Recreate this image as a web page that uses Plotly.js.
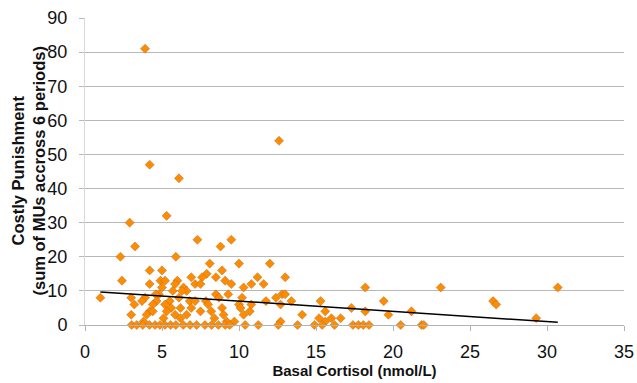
<!DOCTYPE html>
<html>
<head>
<meta charset="utf-8">
<script src="https://cdn.plot.ly/plotly-3.0.1.min.js"></script>
<style>html,body{margin:0;padding:0;background:#fff;}#chart{width:637px;height:383px;}</style>
</head>
<body>
<div id="chart"></div>
<script>
// Basal cortisol (nmol/L)
var cortisol = [
  3.9, 12.6, 4.2, 6.1, 5.3, 2.9, 7.3, 9.5, 3.25, 8.8, 2.3, 5.9, 8.1, 10.0, 12.0,
  4.2, 5.0, 8.9, 7.9, 6.9, 7.6, 8.5, 11.2, 13.0, 2.4, 4.9, 5.2, 6.0, 9.1,
  4.2, 5.85, 7.15, 7.5, 9.5, 10.8, 11.6,
  5.0, 6.4, 10.3, 18.2, 23.1, 30.7,
  5.7, 6.6, 6.3,
  4.8, 9.3, 8.5, 12.8, 13.0, 4.6,
  1.0, 3.0, 3.9, 3.7, 4.65, 6.1, 8.7, 10.2, 12.4,
  5.5, 6.8, 7.15, 7.85, 11.75, 13.4, 15.3, 19.4, 26.5,
  3.2, 4.4, 5.2, 10.0, 10.8, 12.7, 26.7,
  6.2, 6.9, 8.0, 8.9, 5.6, 10.1, 17.3,
  4.2, 5.3, 7.5, 8.2, 10.7, 15.6, 18.2, 21.2, 4.4,
  3.0, 4.0, 5.85, 6.6, 9.0, 10.3, 14.1, 19.7,
  5.1, 6.2, 8.4, 15.2, 16.0, 16.6, 29.3,
  3.8, 9.2, 9.7, 12.7, 15.6,
  3.03, 3.36, 3.75, 4.18, 4.55, 4.87, 5.19, 5.56, 5.9, 6.38, 6.82, 7.25, 7.79,
  8.22, 8.66, 9.1, 9.4, 10.4, 11.25, 12.55, 13.8, 14.9, 15.4, 16.2, 17.4, 17.75,
  18.07, 18.44, 20.5, 21.86, 22.0
];
// Costly punishment (sum of MUs across 6 periods)
var punishment = [
  81, 54, 47, 43, 32, 30, 25, 25, 23, 23, 20, 20, 18, 18, 18,
  16, 16, 16, 15, 14, 14, 14, 14, 14, 13, 13, 13, 13, 13,
  12, 12, 12, 12, 12, 12, 12,
  11, 11, 11, 11, 11, 11,
  10, 10, 10,
  9, 9, 9, 9, 9, 9,
  8, 8, 8, 7, 7, 8, 8, 8, 8,
  7, 7, 7, 7, 7, 7, 7, 7, 7,
  6, 6, 6, 6, 6, 6, 6,
  5, 5, 6, 5, 5, 5, 5,
  4, 4, 4, 4, 4, 4, 4, 4, 4,
  3, 3, 3, 3, 3, 3, 3, 3,
  2, 2, 2, 2, 2, 2, 2,
  1, 1, 1, 1, 1,
  0, 0, 0, 0, 0, 0, 0, 0, 0, 0, 0, 0, 0,
  0, 0, 0, 0, 0, 0, 0, 0, 0, 0, 0, 0, 0,
  0, 0, 0, 0, 0
];
// Linear trend
var trendIntercept = 10.0;
var trendSlope = -0.30;

var xTitle = 'Basal Cortisol (nmol/L)';
var yTitleLines = ['Costly Punishment', '(sum of MUs accross 6 periods)'];

var xMin = Math.min.apply(null, cortisol);
var xMax = Math.max.apply(null, cortisol);
var trendX = [xMin, xMax];
var trendY = trendX.map(function (x) { return trendIntercept + trendSlope * x; });

var data = [
  {
    type: 'scatter', mode: 'markers', x: cortisol, y: punishment,
    cliponaxis: false,
    marker: { symbol: 'diamond', size: 7, color: '#FF8C00', line: { color: 'rgba(160,100,40,0.7)', width: 0.6 } },
    hoverinfo: 'x+y'
  },
  {
    type: 'scatter', mode: 'lines', x: trendX, y: trendY,
    line: { color: '#000', width: 1.5 }, hoverinfo: 'skip'
  }
];

var layout = {
  width: 637, height: 383,
  margin: { l: 85, r: 13, t: 18, b: 58 },
  paper_bgcolor: '#fff', plot_bgcolor: '#fff',
  showlegend: false,
  font: { family: 'Liberation Sans, Arial, sans-serif', color: '#111' },
  xaxis: {
    range: [0, 35], dtick: 5, tick0: 0,
    showgrid: false, zeroline: false,
    showline: true, linecolor: '#b3b3b3', linewidth: 1,
    ticks: 'outside', ticklen: 5, tickcolor: '#b3b3b3',
    ticklabelstandoff: 5,
    tickfont: { size: 18, color: '#111' },
    title: { text: '<b>' + xTitle + '</b>', font: { size: 15, color: '#111' }, standoff: 2 }
  },
  yaxis: {
    range: [0, 90], dtick: 10, tick0: 0,
    showgrid: true, gridcolor: '#b8b8b8', gridwidth: 1,
    zeroline: false,
    showline: true, linecolor: '#d9d9d9', linewidth: 1,
    ticks: 'outside', ticklen: 5, tickcolor: '#b8b8b8',
    ticklabelstandoff: 8,
    tickfont: { size: 18, color: '#111' }
  },
  annotations: [{
    xref: 'paper', yref: 'paper', x: 0, y: 0.5,
    xanchor: 'center', yanchor: 'middle', xshift: -57,
    textangle: -90, showarrow: false,
    text: '<b>' + yTitleLines.join('<br>') + '</b>',
    font: { size: 16.5, color: '#111' }
  }]
};

Plotly.newPlot('chart', data, layout, { displayModeBar: false, staticPlot: true });
</script>
</body>
</html>
